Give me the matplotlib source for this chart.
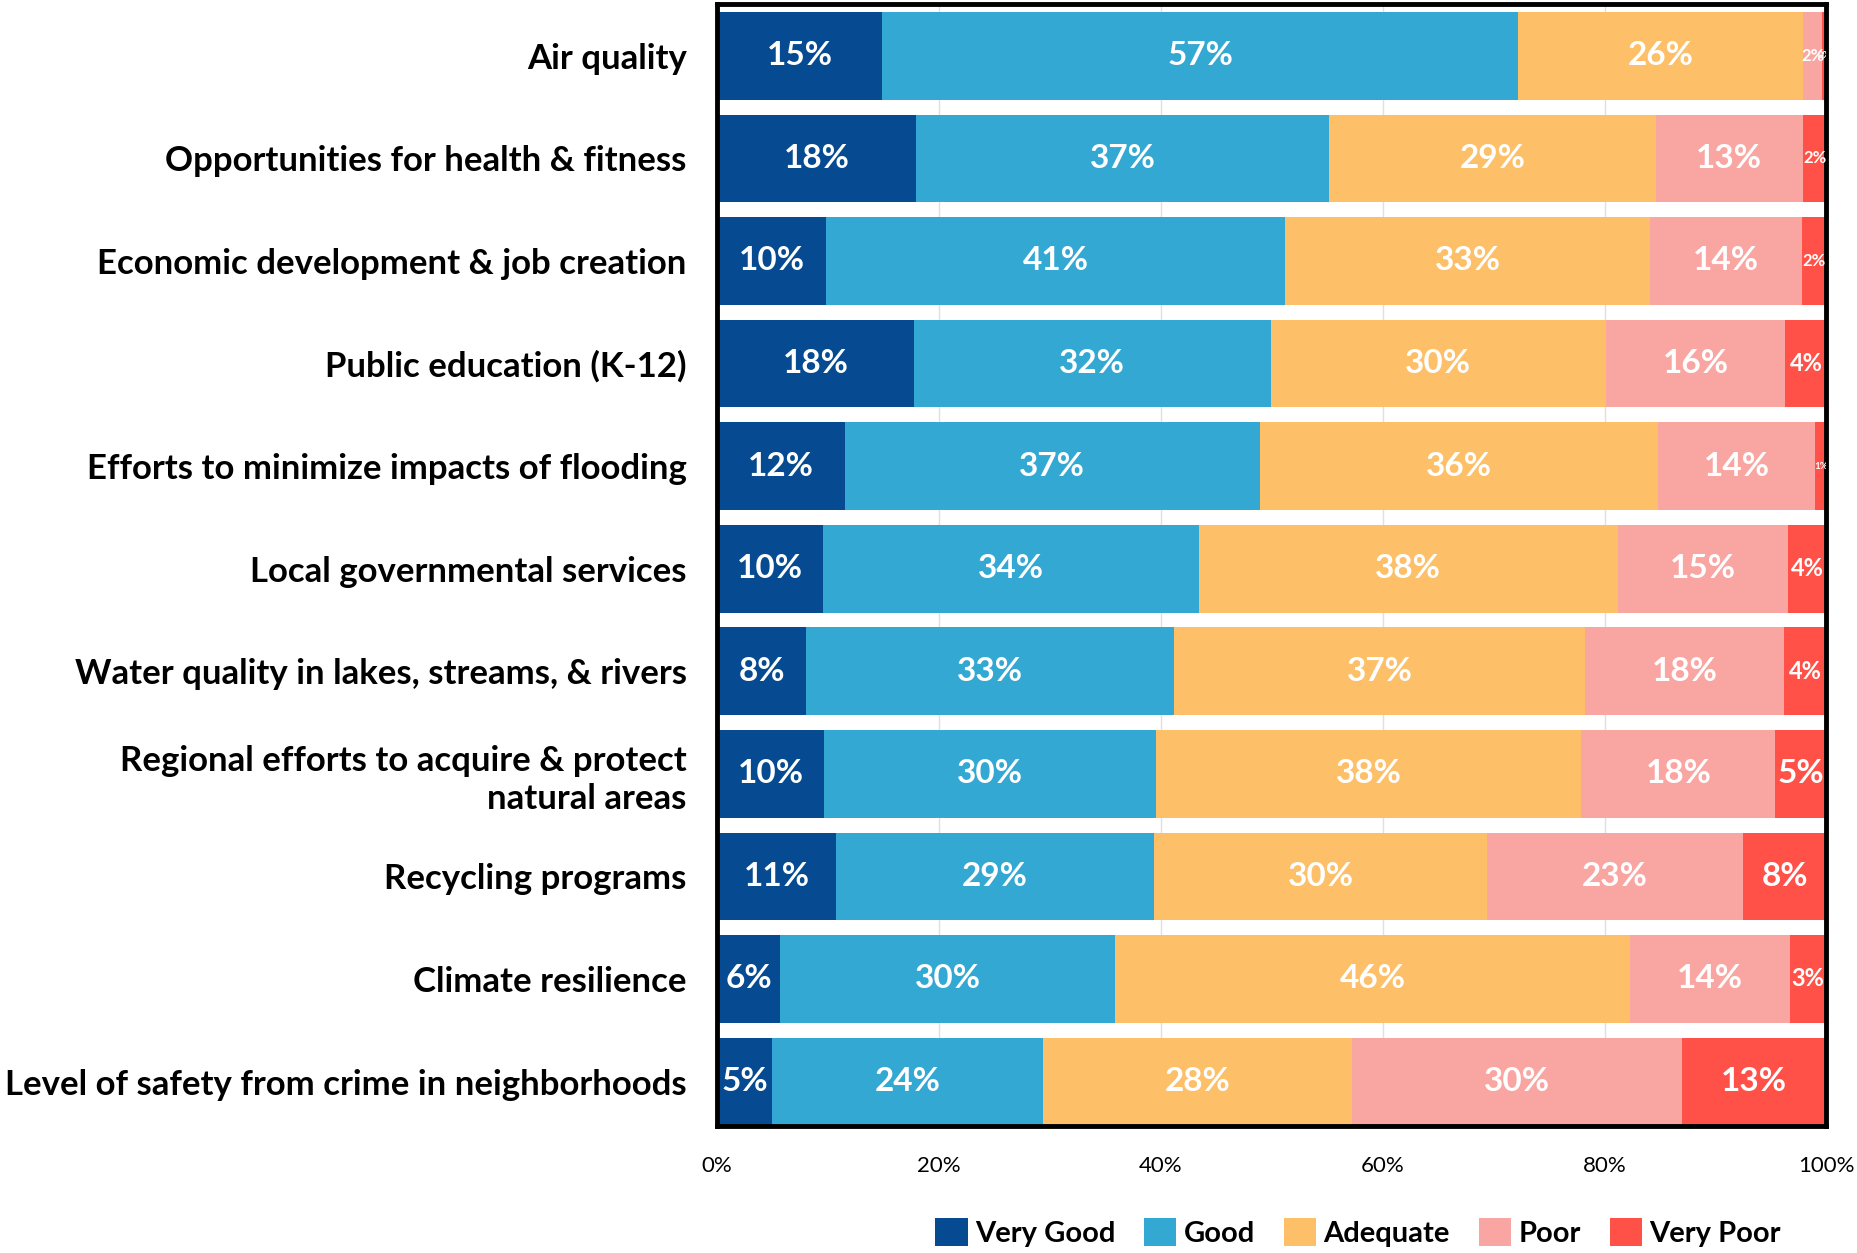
import matplotlib.pyplot as plt
import numpy as np

plt.rcParams["font.family"] = ["Lato", "DejaVu Sans"]

categories = [
    "Air quality",
    "Opportunities for health & fitness",
    "Economic development & job creation",
    "Public education (K-12)",
    "Efforts to minimize impacts of flooding",
    "Local governmental services",
    "Water quality in lakes, streams, & rivers",
    "Regional efforts to acquire & protect\nnatural areas",
    "Recycling programs",
    "Climate resilience",
    "Level of safety from crime in neighborhoods",
]
series = ["Very Good", "Good", "Adequate", "Poor", "Very Poor"]
very_good = [14.9, 17.9, 9.8, 17.7, 11.5, 9.5, 8.0, 9.6, 10.7, 5.7, 4.9]
good = [57.3, 37.3, 41.4, 32.2, 37.4, 33.9, 33.2, 30.0, 28.7, 30.2, 24.5]
adequate = [25.7, 29.4, 32.9, 30.2, 35.9, 37.8, 37.0, 38.3, 30.0, 46.4, 27.8]
poor = [1.7, 13.3, 13.7, 16.2, 14.2, 15.3, 18.0, 17.5, 23.1, 14.4, 29.8]
very_poor = [0.4, 2.1, 2.2, 3.7, 1.0, 3.5, 3.8, 4.6, 7.6, 3.3, 13.0]
colors = ["#064a91", "#33a8d3", "#fdbf68", "#f9a6a3", "#ff5147"]

data = [very_good, good, adequate, poor, very_poor]


def label_size(v):
    # small segments get smaller labels, like the original
    if v >= 4.5:
        return 24
    if v >= 3:
        return 17
    if v >= 1.5:
        return 12
    return 7


fig = plt.figure(figsize=(18.58, 12.53), dpi=100)
ax = fig.add_axes([0.386, 0.101, 0.597, 0.896])

y = np.arange(len(categories))
h = 0.855
left = np.zeros(len(categories))
for name, vals, col in zip(series, data, colors):
    vals = np.array(vals)
    ax.barh(y, vals, left=left, height=h, color=col, label=name, zorder=2)
    for yi, (l, v) in enumerate(zip(left, vals)):
        ax.text(l + v / 2, yi, "{:.0f}%".format(v), ha="center", va="center",
                color="white", fontsize=label_size(v), fontweight="bold",
                zorder=3, clip_on=True)
    left += vals

ax.set_xlim(0, 100)
ax.set_ylim(len(categories) - 1 + h / 2 + 0.01, -h / 2 - 0.08)
ax.set_yticks(y)
ax.set_yticklabels(categories, fontsize=25, fontweight="bold",
                   linespacing=1.25)
ax.set_xticks(np.arange(0, 101, 20))
ax.set_xticklabels(["{}%".format(t) for t in range(0, 101, 20)], fontsize=16)
ax.tick_params(axis="y", length=0, pad=22)
ax.tick_params(axis="x", length=0, pad=21)
ax.xaxis.grid(True, color="#e0e0e0", lw=1, zorder=0)
ax.set_axisbelow(True)
for s in ax.spines.values():
    s.set_linewidth(3.5)
    s.set_color("black")

leg = fig.legend(loc="center", bbox_to_anchor=(0.731, 0.0167), ncol=5,
                 frameon=False, prop={"size": 21, "weight": "bold"},
                 handlelength=1.1, handleheight=1.1, handletextpad=0.25,
                 columnspacing=1.0, borderaxespad=0)

fig.savefig("out.png", dpi=100)
